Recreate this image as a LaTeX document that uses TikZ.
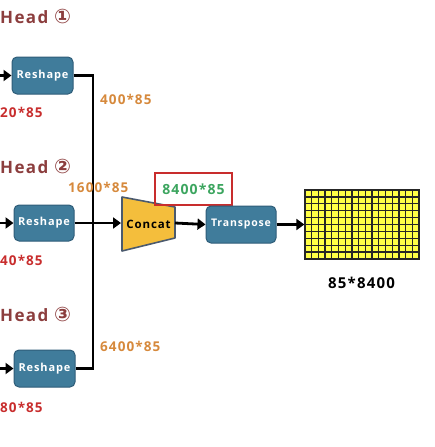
\documentclass[tikz,border=0pt]{standalone}
\usepackage{fontspec}
\setmainfont{Open Sans}
\newfontfamily\spc{Open Sans}[LetterSpace=8]
\newfontfamily\dv{DejaVu Sans}
\usetikzlibrary{arrows.meta}
\definecolor{headc}{RGB}{140,62,62}
\definecolor{orng}{RGB}{214,137,60}
\definecolor{redn}{RGB}{200,45,45}
\definecolor{grn}{RGB}{60,165,95}
\definecolor{boxf}{RGB}{64,124,155}
\definecolor{boxd}{RGB}{46,92,120}
\definecolor{conf}{RGB}{244,190,60}
\definecolor{cond}{RGB}{75,90,110}
\definecolor{gridf}{RGB}{255,255,70}
\begin{document}
\begin{tikzpicture}[x=1pt,y=-1pt,
 blk/.style={draw=boxd, line width=1pt, fill=boxf, rounded corners=5pt, text=white,
   font=\spc\bfseries\fontsize{11}{13}\selectfont, inner sep=0pt},
 arr/.style={line width=2.8pt, -{Triangle[length=8pt,width=11pt]}},
 ln/.style={line width=2.8pt},
 headlab/.style={text=headc, font=\spc\bfseries\fontsize{17}{20}\selectfont, anchor=west, inner sep=0pt},
 dimlab/.style={font=\spc\bfseries\fontsize{13.5}{16}\selectfont, inner sep=0pt},
 gline/.style={line width=1.3pt, black!85}
]
\useasboundingbox (0,0) rectangle (435,447);

% heads
\node[headlab] (h1) at (0,16) {Head {\dv\fontsize{20}{22}\selectfont ①}};
\node[headlab] (h2) at (0,166) {Head {\dv\fontsize{20}{22}\selectfont ②}};
\node[headlab] (h3) at (0,314) {Head {\dv\fontsize{20}{22}\selectfont ③}};

% reshape blocks
\node[blk, minimum width=61pt, minimum height=37pt] (r1) at (42.5,75.5) {Reshape};
\node[blk, minimum width=60pt, minimum height=36pt] (r2) at (44,223) {Reshape};
\node[blk, minimum width=61pt, minimum height=37pt] (r3) at (44.5,368.5) {Reshape};

\coordinate (in1) at (0,75.5);
\coordinate (in2) at (0,223);
\coordinate (in3) at (0,368.5);
\draw[arr] (in1) -- (r1.west);
\draw[arr] (in2) -- (r2.west);
\draw[arr] (in3) -- (r3.west);

% red dims
\node[dimlab, text=redn, anchor=west] (d1) at (0,112) {20*85};
\node[dimlab, text=redn, anchor=west] (d2) at (0,260) {40*85};
\node[dimlab, text=redn, anchor=west] (d3) at (0,407) {80*85};

% merge line
\coordinate (j3) at (93,368.5);
\draw[ln] (r1.east) -| (j3) -- (r3.east);

% orange dims
\node[dimlab, text=orng, anchor=west] (o1) at (100,99) {400*85};
\node[dimlab, text=orng, anchor=west] (o2) at (68,187) {1600*85};
\node[dimlab, text=orng, anchor=west] (o3) at (100,346) {6400*85};

% concat
\coordinate (c1) at (122,197);
\coordinate (c2) at (175,207);
\coordinate (c3) at (175,238);
\coordinate (c4) at (122,251);
\draw[fill=conf, draw=cond, line width=1.6pt, line join=round] (c1) -- (c2) -- (c3) -- (c4) -- cycle;
\node[font=\spc\bfseries\fontsize{11.5}{13}\selectfont, text=black, inner sep=0pt] (concat) at (148.5,224) {Concat};
\coordinate (cL) at (121,223);
\coordinate (cR) at (175,223);
\draw[arr] (r2.east) -- (cL);

% 8400*85 box
\node[draw=redn, line width=1.6pt, text=grn, font=\spc\bfseries\fontsize{14}{16}\selectfont,
  minimum width=77pt, minimum height=32pt, inner sep=0pt] (dim) at (193.5,189) {8400*85};

% transpose
\node[blk, font=\spc\bfseries\fontsize{10.5}{12}\selectfont, minimum width=70pt, minimum height=37pt] (tr) at (241,224.5) {Transpose};
\draw[arr] (cR) -- (tr.west);

% grid
\node[draw=black!85, fill=gridf, line width=1.3pt, minimum width=114pt, minimum height=69pt, inner sep=0pt] (grid) at (362,224.5) {};
\foreach \i in {1,...,16} \draw[gline] (305+\i*6.706,190) -- (305+\i*6.706,259);
\foreach \j in {1,...,9} \draw[gline] (305,190+\j*6.9) -- (419,190+\j*6.9);
\draw[arr] (tr.east) -- (grid.west);

\node[font=\spc\bfseries\fontsize{15}{17}\selectfont, text=black, inner sep=0pt] (out) at (361.5,283) {85*8400};
\end{tikzpicture}
\end{document}
